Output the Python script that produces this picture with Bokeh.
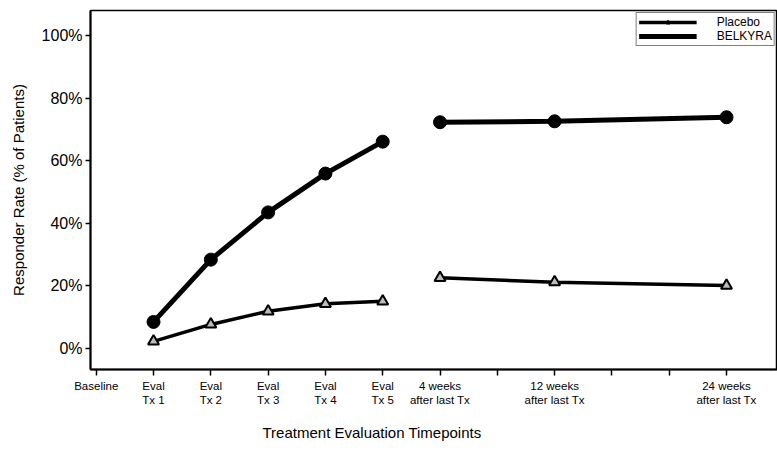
import numpy as np
from bokeh.plotting import figure
from bokeh.models import FixedTicker, Range1d, Legend, LegendItem, Title
from bokeh.embed import file_html
from bokeh.resources import INLINE

# ---- data ----
tick_positions = [0, 1, 2, 3, 4, 5, 6, 7, 8, 9, 10, 11]
tick_labels = {
    0: "Baseline",
    1: "Eval\nTx 1",
    2: "Eval\nTx 2",
    3: "Eval\nTx 3",
    4: "Eval\nTx 4",
    5: "Eval\nTx 5",
    6: "4 weeks\nafter last Tx",
    7: "",
    8: "12 weeks\nafter last Tx",
    9: "",
    10: "",
    11: "24 weeks\nafter last Tx",
}
timepoint_x = [1, 2, 3, 4, 5, 6, 8, 11]
segment = [0, 0, 0, 0, 0, 1, 1, 1]
belkyra = [8.5, 28.4, 43.5, 55.9, 66.1, 72.3, 72.6, 73.9]
placebo = [2.3, 7.7, 11.9, 14.3, 15.1, 22.6, 21.2, 20.1]
y_ticks = [0, 20, 40, 60, 80, 100]

FONT = "Liberation Sans"

p = figure(width=777, height=454, output_backend="svg", toolbar_location=None,
           x_range=Range1d(-0.10, 11.89), y_range=Range1d(-6.7, 108.0),
           min_border_left=90, min_border_top=10, min_border_right=0,
           min_border_bottom=85)
p.grid.visible = False
p.outline_line_color = "black"
p.outline_line_width = 1.5
p.background_fill_color = "white"
p.border_fill_color = "white"

# x axis
p.xaxis.ticker = FixedTicker(ticks=tick_positions, minor_ticks=[])
p.xaxis.major_label_overrides = {k: v for k, v in tick_labels.items()}
p.xaxis.major_label_text_font = FONT
p.xaxis.major_label_text_font_size = "11.5px"
p.xaxis.major_label_text_color = "black"
p.xaxis.major_tick_in = 0
p.xaxis.major_tick_out = 6
p.xaxis.major_tick_line_width = 1.5
p.xaxis.minor_tick_line_color = None
p.xaxis.axis_line_width = 2
p.xaxis.major_label_standoff = 4

# y axis
p.yaxis.ticker = FixedTicker(ticks=y_ticks, minor_ticks=[])
p.yaxis.major_label_overrides = {v: f"{v}%" for v in y_ticks}
p.yaxis.major_label_text_font = FONT
p.yaxis.major_label_text_font_size = "16px"
p.yaxis.major_label_text_color = "black"
p.yaxis.major_tick_in = 0
p.yaxis.major_tick_out = 5
p.yaxis.major_tick_line_width = 1.5
p.yaxis.minor_tick_line_color = None
p.yaxis.axis_line_width = 2
p.yaxis.major_label_standoff = 3
p.yaxis.axis_label = "Responder Rate (% of Patients)"
p.yaxis.axis_label_text_font = FONT
p.yaxis.axis_label_text_font_size = "15px"
p.yaxis.axis_label_text_font_style = "normal"
p.yaxis.axis_label_text_color = "black"
p.yaxis.axis_label_standoff = 12

# data lines (broken between Tx 5 and follow-up)
xs = np.array(timepoint_x, dtype=float)
seg = np.array(segment)
yb = np.array(belkyra)
yp = np.array(placebo)

pl_line = None
bk_line = None
for s in sorted(set(segment)):
    m = seg == s
    pl_line = p.line(xs[m], yp[m], line_color="black", line_width=3.5)
    bk_line = p.line(xs[m], yb[m], line_color="black", line_width=5)

pl_mark = p.scatter(xs, yp, marker="triangle", size=11, fill_color="#bbbbbb",
                    line_color="black", line_width=2)
bk_mark = p.scatter(xs, yb, marker="circle", size=13, fill_color="black",
                    line_color="black")

legend = Legend(items=[LegendItem(label="Placebo", renderers=[pl_line, pl_mark]),
                       LegendItem(label="BELKYRA", renderers=[bk_line, bk_mark])],
                location="top_right")
legend.label_text_font = FONT
legend.label_text_font_size = "12px"
legend.label_text_color = "black"
legend.label_text_baseline = "middle"
legend.glyph_width = 58
legend.glyph_height = 8
legend.label_height = 8
legend.spacing = 0
legend.padding = 2
legend.margin = 2
legend.label_standoff = 20
legend.border_line_color = "black"
legend.border_line_width = 1.2
legend.background_fill_alpha = 1
p.add_layout(legend)

# x axis title (offset to the left as in the reference)
xt = Title(text="Treatment Evaluation Timepoints", align="left", offset=172,
           text_font=FONT, text_font_size="15px", text_font_style="normal",
           text_color="black", standoff=27)
p.add_layout(xt, "below")

open("out.html", "w").write(file_html(p, INLINE))
